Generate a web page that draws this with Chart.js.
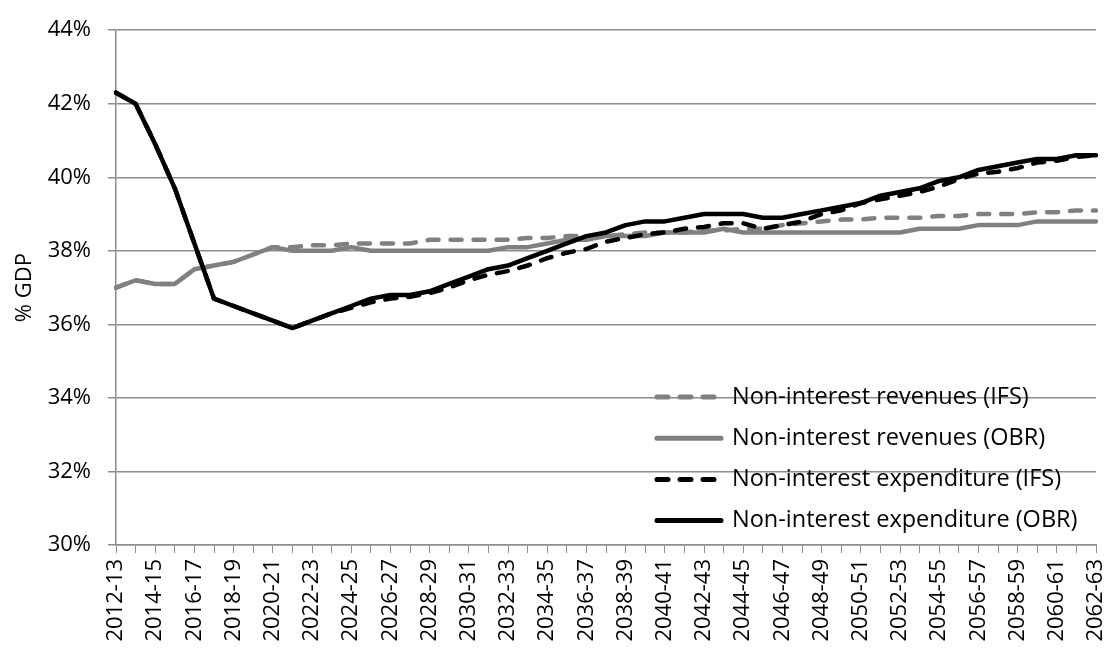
<!DOCTYPE html>
<html lang="en">
<head>
<meta charset="UTF-8">
<title>Non-interest revenues and expenditure</title>
<script src="https://cdn.jsdelivr.net/npm/chart.js"></script>
<style>
  html, body { margin: 0; padding: 0; background: #fff; }
  #wrap { width: 1107px; height: 652px; }
</style>
</head>
<body>
<div id="wrap"><canvas id="chart"></canvas></div>
<script>
const years = ["2012-13","2013-14","2014-15","2015-16","2016-17","2017-18","2018-19","2019-20","2020-21","2021-22",
  "2022-23","2023-24","2024-25","2025-26","2026-27","2027-28","2028-29","2029-30","2030-31","2031-32",
  "2032-33","2033-34","2034-35","2035-36","2036-37","2037-38","2038-39","2039-40","2040-41","2041-42",
  "2042-43","2043-44","2044-45","2045-46","2046-47","2047-48","2048-49","2049-50","2050-51","2051-52",
  "2052-53","2053-54","2054-55","2055-56","2056-57","2057-58","2058-59","2059-60","2060-61","2061-62","2062-63"];

const revenuesIFS = [37.0,37.2,37.1,37.1,37.5,37.6,37.7,37.9,38.1,38.1,
  38.15,38.15,38.2,38.2,38.2,38.2,38.3,38.3,38.3,38.3,
  38.3,38.35,38.35,38.4,38.4,38.4,38.45,38.5,38.5,38.5,
  38.55,38.55,38.6,38.6,38.7,38.75,38.8,38.85,38.85,38.9,
  38.9,38.9,38.95,38.95,39.0,39.0,39.0,39.05,39.05,39.1,39.1];

const revenuesOBR = [37.0,37.2,37.1,37.1,37.5,37.6,37.7,37.9,38.1,38.0,
  38.0,38.0,38.1,38.0,38.0,38.0,38.0,38.0,38.0,38.0,
  38.1,38.1,38.2,38.3,38.3,38.4,38.4,38.4,38.5,38.5,
  38.5,38.6,38.5,38.5,38.5,38.5,38.5,38.5,38.5,38.5,
  38.5,38.6,38.6,38.6,38.7,38.7,38.7,38.8,38.8,38.8,38.8];

const expenditureIFS = [42.3,42.0,40.9,39.7,38.2,36.7,36.5,36.3,36.1,35.9,
  36.1,36.3,36.45,36.6,36.7,36.75,36.85,37.0,37.2,37.35,
  37.45,37.6,37.8,37.95,38.05,38.25,38.35,38.45,38.5,38.6,
  38.65,38.75,38.75,38.6,38.7,38.8,39.0,39.1,39.3,39.4,
  39.5,39.6,39.75,39.95,40.1,40.15,40.25,40.4,40.45,40.55,40.6];

const expenditureOBR = [42.3,42.0,40.9,39.7,38.2,36.7,36.5,36.3,36.1,35.9,
  36.1,36.3,36.5,36.7,36.8,36.8,36.9,37.1,37.3,37.5,
  37.6,37.8,38.0,38.2,38.4,38.5,38.7,38.8,38.8,38.9,
  39.0,39.0,39.0,38.9,38.9,39.0,39.1,39.2,39.3,39.5,
  39.6,39.7,39.9,40.0,40.2,40.3,40.4,40.5,40.5,40.6,40.6];

const yTicks = [30,32,34,36,38,40,42,44];

const FONT = "'Open Sans', sans-serif";
const GRID = '#8c8c8c';
const GREY = '#808080';

// legend drawn inside the plot, bottom right
const insideLegend = {
  id: 'insideLegend',
  afterDatasetsDraw(chart) {
    const ctx = chart.ctx;
    const area = chart.chartArea;
    const x0 = area.right - 439, x1 = area.right - 375, tx = area.right - 364;
    ctx.save();
    ctx.font = '23.5px ' + FONT;
    ctx.textBaseline = 'middle';
    ctx.textAlign = 'left';
    chart.data.datasets.forEach((ds, i) => {
      const y = 397 + i * 41.2;
      ctx.beginPath();
      ctx.strokeStyle = ds.borderColor;
      ctx.lineWidth = 5;
      ctx.lineCap = 'round';
      ctx.setLineDash(ds.borderDash || []);
      ctx.moveTo(x0, y);
      ctx.lineTo(x1, y);
      ctx.stroke();
      ctx.setLineDash([]);
      ctx.fillStyle = '#000';
      ctx.fillText(ds.label, tx, y);
    });
    ctx.restore();
  }
};

new Chart(document.getElementById('chart'), {
  type: 'line',
  data: {
    labels: years,
    datasets: [
      { label: 'Non-interest revenues (IFS)', data: revenuesIFS, borderColor: GREY, borderDash: [11, 12], order: 3 },
      { label: 'Non-interest revenues (OBR)', data: revenuesOBR, borderColor: GREY, order: 4 },
      { label: 'Non-interest expenditure (IFS)', data: expenditureIFS, borderColor: '#000', borderDash: [11, 12], order: 1 },
      { label: 'Non-interest expenditure (OBR)', data: expenditureOBR, borderColor: '#000', order: 2 }
    ]
  },
  options: {
    responsive: true,
    maintainAspectRatio: false,
    animation: false,
    devicePixelRatio: 1,
    layout: { padding: { left: 0, right: 11, top: 27, bottom: 0 } },
    elements: {
      line: { borderWidth: 4.5, tension: 0, borderCapStyle: 'round', borderJoinStyle: 'round', fill: false },
      point: { radius: 0, hoverRadius: 0 }
    },
    plugins: { legend: { display: false }, tooltip: { enabled: false } },
    scales: {
      x: {
        offset: false,
        grid: { drawOnChartArea: false, drawTicks: true, tickLength: 8, color: GRID },
        border: { display: true, color: GRID, width: 1.5 },
        ticks: {
          autoSkip: false, minRotation: 90, maxRotation: 90, padding: 6,
          color: '#000', font: { family: FONT, size: 22 },
          callback: (v, i) => (i % 2 === 0 ? years[i] : '')
        },
        afterFit(scale) { scale.height = 107; scale.paddingLeft = 0; scale.paddingRight = 0; }
      },
      y: {
        min: 30, max: 44,
        afterBuildTicks(scale) { scale.ticks = yTicks.map(v => ({ value: v })); },
        grid: { color: GRID, tickLength: 8, lineWidth: 1.5 },
        border: { display: true, color: GRID, width: 1.5 },
        ticks: { padding: 17, color: '#000', font: { family: FONT, size: 22 }, callback: v => v + '%' },
        title: { display: true, text: '% GDP', color: '#000', font: { family: FONT, size: 22 }, padding: { top: 12, bottom: 0 } },
        afterFit(scale) { scale.width = 116; }
      }
    }
  },
  plugins: [insideLegend]
});
</script>
</body>
</html>
